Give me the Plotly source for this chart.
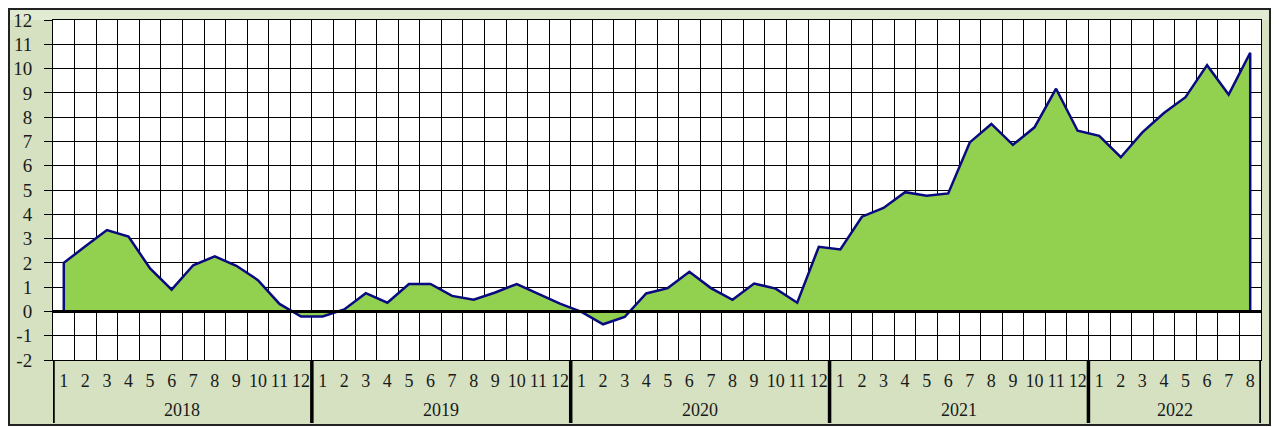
import plotly.graph_objects as go

# monthly values, Jan 2018 - Aug 2022
years = ["2018", "2019", "2020", "2021", "2022"]
months_per_year = [12, 12, 12, 12, 8]

values_2018 = [2.0, 2.68, 3.35, 3.08, 1.77, 0.9, 1.9, 2.27, 1.88, 1.29, 0.31, -0.21]
values_2019 = [-0.21, 0.08, 0.75, 0.36, 1.13, 1.13, 0.64, 0.48, 0.78, 1.13, 0.71, 0.32]
values_2020 = [-0.02, -0.53, -0.23, 0.74, 0.96, 1.63, 0.96, 0.48, 1.15, 0.94, 0.36, 2.66]
values_2021 = [2.55, 3.9, 4.26, 4.91, 4.76, 4.86, 6.96, 7.72, 6.86, 7.58, 9.17, 7.44]
values_2022 = [7.23, 6.35, 7.37, 8.17, 8.82, 10.14, 8.93, 10.65]

y_ticks = list(range(-2, 13))
y_ticktext = [str(v) for v in y_ticks]  # plain hyphen for negatives

values = values_2018 + values_2019 + values_2020 + values_2021 + values_2022
month_labels = [str(m) for n in months_per_year for m in range(1, n + 1)]
idx = list(range(len(values)))

paper_green = "#d5e1c1"
fill_green = "#92d050"
navy = "#0a0a80"
serif = "Liberation Serif"
text_col = "#1a1a1a"

fig = go.Figure()

# area filled down to zero
fig.add_trace(go.Scatter(
    x=idx, y=values,
    mode="none", fill="tozeroy", fillcolor=fill_green,
    hoverinfo="skip",
))

# outline, closed down to the baseline at both ends like an Excel area
fig.add_trace(go.Scatter(
    x=[idx[0]] + idx + [idx[-1]],
    y=[0] + values + [0],
    mode="lines",
    line=dict(color=navy, width=2.5),
))

W, H = 1263, 418
ml, mr, mt, mb = 45, 10, 12, 66
pw, ph = W - ml - mr, H - mt - mb

# outer chart frame
fig.add_shape(
    type="rect", xref="paper", yref="paper",
    x0=-(ml - 1) / pw, x1=1 + (mr - 1) / pw,
    y0=-(mb - 1) / ph, y1=1 + (mt - 1) / ph,
    line=dict(color="#222222", width=2), layer="below",
)

# slightly lighter band along the top, like the faded gradient of the original
fig.add_shape(
    type="rect", xref="paper", yref="paper",
    x0=-(ml - 2) / pw, x1=1 + (mr - 2) / pw,
    y0=1, y1=1 + (mt - 2) / ph,
    line=dict(width=0), fillcolor="#e0ebd2", layer="below",
)

# thick horizontal axis at zero, on top of the area
fig.add_shape(
    type="line", xref="paper", yref="y",
    x0=0, x1=1, y0=0, y1=0,
    line=dict(color="black", width=3),
)

# year groups: thick dividers down through the label band, year names centred
label_bottom = -(mb - 3) / ph
start = 0
edges = [-0.5]
for year, n in zip(years, months_per_year):
    fig.add_annotation(
        x=start + (n - 1) / 2, y=-50 / ph, xref="x", yref="paper",
        text=year, showarrow=False, yanchor="middle",
        font=dict(family=serif, size=18, color=text_col),
    )
    start += n
    edges.append(start - 0.5)
for e in edges:
    fig.add_shape(
        type="line", xref="x", yref="paper",
        x0=e, x1=e, y0=0, y1=label_bottom,
        line=dict(color="black", width=3.5),
    )

fig.update_layout(
    width=W, height=H,
    margin=dict(l=ml, r=mr, t=mt, b=mb),
    paper_bgcolor=paper_green,
    plot_bgcolor="white",
    showlegend=False,
    font=dict(family=serif, color=text_col, size=18),
)

fig.update_xaxes(
    range=[-0.5, len(values) - 0.5],
    tickmode="array", tickvals=idx, ticktext=month_labels,
    tickangle=0, automargin=False,
    showgrid=False, zeroline=False,
    minor=dict(tick0=-0.5, dtick=1, showgrid=True, gridcolor="black", gridwidth=1, ticks=""),
    showline=True, linecolor="black", linewidth=1, mirror=True,
    ticks="", ticklabelstandoff=4,
    tickfont=dict(family=serif, size=18, color=text_col),
)

fig.update_yaxes(
    range=[-2, 12],
    tickmode="array", tickvals=y_ticks, ticktext=y_ticktext,
    showgrid=True, gridcolor="black", gridwidth=1,
    zeroline=False,
    showline=True, linecolor="black", linewidth=1, mirror=True,
    ticks="outside", ticklen=8, tickcolor="black",
    ticklabelstandoff=8, automargin=False,
    tickfont=dict(family=serif, size=19, color=text_col),
)

fig.write_html("out.html")
